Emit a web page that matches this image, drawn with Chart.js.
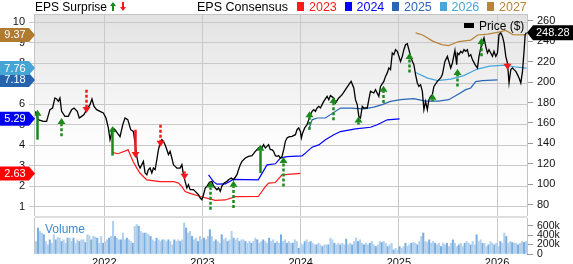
<!DOCTYPE html>
<html>
<head>
<meta charset="utf-8">
<script src="https://cdn.jsdelivr.net/npm/chart.js@4.4.1/dist/chart.umd.min.js"></script>
<style>
  html, body { margin: 0; padding: 0; background: #fff; }
  body { width: 573px; height: 264px; position: relative; overflow: hidden; font-family: "Liberation Sans", Arial, sans-serif; }
  canvas { position: absolute; left: 0; }
  #main { top: 0; }
  #vol { top: 218px; }
  .sep { position: absolute; left: 35px; top: 216px; width: 492px; height: 2px; background: #dedede; }
  .lg { position: absolute; top: 0; font-size: 12.5px; line-height: 14px; white-space: nowrap; color: #000; }
  .sw { position: absolute; top: 2px; width: 7px; height: 9px; }
  #priceLegend { position: absolute; left: 464px; top: 19px; font-size: 12px; line-height: 14px; white-space: nowrap; }
  #priceLegend span { display: inline-block; width: 10px; height: 5px; background: #000; margin-right: 5px; vertical-align: 2px; }
  #volLabel { position: absolute; left: 45px; top: 222px; font-size: 12px; line-height: 14px; color: #3b8bd2; }
</style>
</head>
<body>
<canvas id="main" width="573" height="216"></canvas>
<div class="sep"></div>
<canvas id="vol" width="573" height="46"></canvas>
<div class="lg" style="left:35px;font-size:12px">EPS Surprise</div>
<svg class="lg" style="left:110px;top:2px" width="20" height="10">
  <path d="M3 0 L6 4 L4 4 L4 9 L2 9 L2 4 L0 4 Z" fill="#1b8a1b"/>
  <path d="M13 9 L16 5 L14 5 L14 0 L12 0 L12 5 L10 5 Z" fill="#f21a1a"/>
</svg>
<div class="lg" style="left:197px">EPS Consensus</div>
<div id="consLegend"></div>
<div id="priceLegend"><span></span>Price ($)</div>
<div id="volLabel">Volume</div>

<script>
// x axis is in decimal years
const X_MIN = 2021.294, X_MAX = 2026.305;
const yearTicks = [2022, 2023, 2024, 2025, 2026];
const epsTicks = [1, 2, 3, 4, 5, 6, 7, 8, 9, 10];
const priceTicks = [80, 100, 120, 140, 160, 180, 200, 220, 240, 260];
const volTicks = [0, 200, 400, 600];

// price ($)
const priceYears = [2021.294, 2021.327, 2021.378, 2021.412, 2021.446, 2021.473, 2021.497, 2021.514, 2021.531, 2021.548,
  2021.565, 2021.599, 2021.633, 2021.667, 2021.691, 2021.724, 2021.745, 2021.769, 2021.793, 2021.820,
  2021.854, 2021.874, 2021.895, 2021.922, 2021.956, 2021.990, 2022.017, 2022.041, 2022.058, 2022.086,
  2022.109, 2022.130, 2022.160, 2022.188, 2022.211, 2022.239, 2022.269, 2022.296, 2022.313, 2022.331,
  2022.347, 2022.364, 2022.382, 2022.398, 2022.415, 2022.433, 2022.449, 2022.466, 2022.484, 2022.500,
  2022.517, 2022.535, 2022.551, 2022.568, 2022.586, 2022.602, 2022.619, 2022.637, 2022.653, 2022.670,
  2022.688, 2022.704, 2022.721, 2022.739, 2022.772, 2022.790, 2022.806, 2022.823, 2022.841, 2022.857,
  2022.874, 2022.908, 2022.926, 2022.959, 2022.977, 2022.994, 2023.010, 2023.028, 2023.045, 2023.071,
  2023.096, 2023.112, 2023.130, 2023.147, 2023.163, 2023.181, 2023.198, 2023.221, 2023.249, 2023.265,
  2023.293, 2023.316, 2023.351, 2023.367, 2023.385, 2023.402, 2023.436, 2023.469, 2023.504, 2023.538,
  2023.571, 2023.589, 2023.606, 2023.622, 2023.640, 2023.657, 2023.673, 2023.691, 2023.708, 2023.724,
  2023.742, 2023.759, 2023.776, 2023.793, 2023.810, 2023.827, 2023.844, 2023.861, 2023.878, 2023.912,
  2023.946, 2023.963, 2023.980, 2023.997, 2024.007, 2024.020, 2024.041, 2024.065, 2024.082, 2024.099,
  2024.116, 2024.133, 2024.150, 2024.167, 2024.184, 2024.201, 2024.218, 2024.235, 2024.269, 2024.286,
  2024.303, 2024.337, 2024.354, 2024.388, 2024.422, 2024.456, 2024.490, 2024.514, 2024.541, 2024.558,
  2024.576, 2024.592, 2024.609, 2024.627, 2024.643, 2024.678, 2024.694, 2024.711, 2024.745, 2024.762,
  2024.796, 2024.813, 2024.847, 2024.864, 2024.882, 2024.898, 2024.915, 2024.933, 2024.949, 2024.966,
  2024.984, 2025.017, 2025.035, 2025.051, 2025.068, 2025.086, 2025.102, 2025.119, 2025.137, 2025.153,
  2025.170, 2025.188, 2025.204, 2025.221, 2025.239, 2025.255, 2025.272, 2025.290, 2025.306, 2025.323,
  2025.341, 2025.357, 2025.392, 2025.426, 2025.443, 2025.469, 2025.494, 2025.528, 2025.545, 2025.571,
  2025.589, 2025.596, 2025.612, 2025.630, 2025.647, 2025.663, 2025.681, 2025.698, 2025.714, 2025.732,
  2025.749, 2025.776, 2025.800, 2025.816, 2025.834, 2025.851, 2025.867, 2025.885, 2025.902, 2025.918,
  2025.936, 2025.953, 2025.969, 2025.987, 2026.004, 2026.020, 2026.038, 2026.055, 2026.071, 2026.089,
  2026.106, 2026.122, 2026.140, 2026.157, 2026.173, 2026.191, 2026.208, 2026.224, 2026.242, 2026.259,
  2026.276, 2026.286, 2026.300];
const priceValues = [171.3, 163.2, 161.5, 161.5, 173.0, 174.6, 184.4, 183.4, 181.1, 184.4,
  171.3, 166.4, 166.4, 173.0, 174.6, 171.3, 164.8, 166.4, 168.1, 173.0,
  177.9, 183.4, 176.2, 173.0, 171.3, 169.7, 164.8, 155.1, 143.6, 155.1,
  153.4, 150.5, 146.6, 158.3, 164.8, 163.2, 153.4, 151.7, 140.4, 127.3,
  119.2, 115.9, 119.2, 122.4, 111.1, 109.4, 114.3, 115.9, 111.1, 115.9,
  114.3, 124.1, 133.8, 140.4, 143.6, 142.0, 138.7, 133.8, 129.0, 132.2,
  125.7, 119.2, 117.5, 115.9, 115.9, 119.2, 109.4, 102.8, 96.4, 99.6,
  94.7, 94.7, 93.1, 89.8, 86.6, 84.9, 89.8, 96.4, 98.0, 101.9,
  102.8, 98.6, 96.4, 94.7, 96.4, 93.1, 98.6, 101.3, 102.8, 104.5,
  106.2, 104.5, 109.4, 114.3, 119.2, 122.4, 125.7, 127.3, 128.0, 132.2,
  135.5, 137.1, 135.5, 138.7, 135.5, 137.1, 138.7, 133.8, 133.8, 132.2,
  128.0, 127.3, 128.0, 125.7, 127.3, 133.8, 142.0, 145.3, 146.3, 146.9,
  148.5, 153.4, 155.1, 151.7, 145.3, 150.2, 155.1, 158.3, 163.2, 168.1,
  171.3, 173.0, 171.3, 174.6, 176.2, 174.6, 177.9, 181.1, 186.0, 182.7,
  186.7, 184.4, 179.5, 184.4, 187.6, 192.5, 197.4, 200.6, 194.2, 182.7,
  177.9, 166.4, 164.8, 176.2, 174.6, 174.6, 182.7, 190.9, 189.3, 192.5,
  186.0, 195.7, 200.6, 205.5, 208.9, 213.7, 212.1, 228.4, 226.8, 231.6,
  230.0, 220.2, 225.1, 231.6, 236.5, 237.5, 231.6, 225.1, 220.2, 217.0,
  207.2, 199.1, 195.7, 197.4, 190.9, 173.0, 181.1, 173.0, 182.7, 186.0,
  187.6, 195.7, 200.6, 204.0, 207.2, 220.2, 225.1, 213.7, 218.6, 231.0,
  217.0, 228.4, 226.8, 230.0, 228.4, 231.6, 230.0, 231.6, 225.1, 226.8,
  221.9, 217.0, 213.7, 225.1, 233.3, 238.2, 243.1, 234.9, 228.4, 231.6,
  228.4, 225.1, 230.0, 225.1, 228.4, 246.3, 248.0, 244.6, 238.2, 225.1,
  218.6, 199.1, 212.1, 213.7, 212.1, 210.4, 207.2, 204.0, 199.1, 210.4,
  231.6, 246.3, 248.28];

// EPS consensus by fiscal year
const fy2023Years = [2022.079, 2022.140, 2022.242, 2022.293, 2022.331, 2022.364, 2022.433, 2022.568, 2022.704, 2022.755,
  2022.790, 2022.823, 2022.874, 2022.977, 2023.130, 2023.232, 2023.334, 2023.568, 2023.640, 2023.673,
  2023.742, 2023.810, 2023.997];
const fy2023Eps = [3.66, 3.59, 3.78, 3.21, 2.89, 2.64, 2.32, 2.23, 2.24, 2.16,
  1.99, 1.75, 1.66, 1.51, 1.32, 1.34, 1.50, 1.51, 1.99, 2.16,
  2.19, 2.56, 2.63];
const fy2024Years = [2023.061, 2023.112, 2023.147, 2023.232, 2023.313, 2023.568, 2023.657, 2023.742, 2023.793, 2023.861,
  2024.014, 2024.048, 2024.116, 2024.184, 2024.252, 2024.337, 2024.405, 2024.558, 2024.711, 2024.780,
  2024.882, 2025.007];
const fy2024Eps = [2.56, 2.23, 2.11, 2.12, 2.34, 2.32, 3.05, 3.10, 3.38, 3.45,
  3.49, 3.62, 3.91, 4.02, 4.27, 4.51, 4.67, 4.80, 4.88, 5.00,
  5.24, 5.29];
const fy2025Years = [2024.082, 2024.116, 2024.167, 2024.252, 2024.405, 2024.507, 2024.643, 2024.745, 2024.831, 2024.915,
  2025.017, 2025.150, 2025.272, 2025.405, 2025.507, 2025.596, 2025.681, 2025.732, 2025.783, 2025.851,
  2026.004];
const fy2025Eps = [4.76, 5.24, 5.33, 5.33, 5.81, 5.81, 5.77, 5.86, 5.98, 6.14,
  6.22, 6.27, 6.15, 6.15, 6.22, 6.46, 6.71, 6.79, 7.10, 7.15,
  7.18];
const fy2026Years = [2025.170, 2025.293, 2025.395, 2025.528, 2025.660, 2025.800, 2025.926, 2026.079, 2026.201, 2026.300];
const fy2026Eps = [7.54, 7.27, 7.15, 7.22, 7.39, 7.71, 7.85, 7.90, 7.80, 7.76];
const fy2027Years = [2025.170, 2025.242, 2025.344, 2025.436, 2025.507, 2025.609, 2025.732, 2025.803, 2025.905, 2026.017,
  2026.089, 2026.160, 2026.300];
const fy2027Eps = [9.47, 9.37, 9.07, 8.90, 8.85, 9.05, 9.12, 9.37, 9.41, 9.51,
  9.59, 9.39, 9.37];

const fiscalYears = ["2023", "2024", "2025", "2026", "2027"];
const fiscalColors = ["#ff1a1a", "#0000ff", "#2a66b8", "#45a7dc", "#b8843a"];
const fiscalTagColors = ["#ff0000", "#0000f0", "#2663ad", "#45a5d5", "#b07a2f"];

// EPS surprises: price where the arrow starts and where its head sits
const surpriseYears = [2021.315, 2021.561, 2021.810, 2022.082, 2022.313, 2022.563, 2022.813, 2023.079, 2023.310, 2023.582,
  2023.816, 2024.082, 2024.327, 2024.582, 2024.837, 2025.102, 2025.334, 2025.589, 2025.834, 2026.106];
const surpriseFrom = [143.6, 146.9, 192.5, 128.0, 153.4, 158.3, 112.6, 75.2, 76.8, 111.0,
  97.9, 153.4, 162.5, 158.3, 179.5, 209.4, 181.1, 195.7, 225.1, 218.6];
const surpriseTo = [173.0, 164.8, 169.7, 156.8, 125.7, 136.8, 104.5, 102.8, 103.5, 138.7,
  126.7, 171.3, 185.4, 166.4, 196.4, 228.4, 188.6, 212.8, 243.1, 212.1];
const surpriseStrong = [true, false, false, true, true, false, true, false, false, true,
  false, false, false, false, false, false, false, false, false, true];

// weekly volume, thousands of shares
const volumeK = [265, 552, 480, 444, 409, 265, 194, 301, 229, 409, 301, 358, 337, 265, 301, 229, 337, 337, 265, 337,
  229, 301, 265, 301, 301, 244, 409, 387, 301, 373, 358, 337, 229, 373, 229, 265, 301, 337, 373, 695,
  373, 337, 301, 301, 444, 301, 337, 301, 265, 229, 588, 624, 588, 480, 444, 444, 444, 409, 373, 301,
  265, 337, 301, 265, 301, 301, 265, 301, 265, 194, 301, 265, 301, 265, 301, 660, 552, 444, 480, 373,
  301, 337, 265, 373, 301, 337, 301, 373, 516, 373, 265, 301, 265, 229, 409, 301, 337, 265, 301, 480,
  337, 301, 337, 265, 301, 301, 265, 229, 265, 229, 265, 337, 301, 229, 265, 301, 265, 229, 337, 265,
  301, 229, 265, 229, 409, 265, 301, 229, 265, 229, 229, 301, 265,
  122, 229, 194, 265, 301, 244, 265, 229, 194, 194, 229, 194, 158, 194, 194, 194, 337, 301, 229, 194,
  229, 194, 229, 194, 315, 194, 229, 194, 265, 337, 265, 301, 229, 194, 229, 194, 229, 265, 194, 158,
  194, 265, 244, 265, 229, 158, 194, 229, 86, 122, 86, 158, 122, 158, 229, 158, 194, 229, 244, 229,
  194, 265, 373, 444, 265, 244, 301, 229, 265, 229, 194, 229, 158, 229, 194, 229, 158, 229, 301, 229,
  158, 194, 229, 158, 229, 265, 229, 194, 265, 194, 409, 265, 301, 229, 229, 158, 194, 265, 229, 194,
  229, 158, 265, 229, 444, 373, 229, 265, 244, 229, 229, 194, 229, 265, 244, 265];

Chart.defaults.font.family = '"Liberation Sans", Arial, sans-serif';
Chart.defaults.color = "#111";

// consensus legend along the top
const consLegend = document.getElementById("consLegend");
fiscalYears.forEach(function (fy, i) {
    const left = 297 + i * 47.5;
    consLegend.insertAdjacentHTML("beforeend",
        '<div class="sw" style="left:' + left + 'px;background:' + fiscalColors[i] + '"></div>' +
        '<div class="lg" style="left:' + (left + 12) + 'px;color:' + fiscalColors[i] + '">' + fy + '</div>');
});

function toPoints(xs, ys) {
    return xs.map((x, i) => ({ x: x, y: ys[i] }));
}

function drawArrow(ctx, x, y1, y2, color, solid) {
    const dir = y2 < y1 ? -1 : 1;
    const headH = 6, headW = 4;
    const neck = y2 - dir * headH;
    ctx.strokeStyle = color;
    ctx.lineWidth = 2.5;
    ctx.setLineDash(solid ? [] : [3, 2]);
    ctx.beginPath();
    ctx.moveTo(x, y1);
    ctx.lineTo(x, neck);
    ctx.stroke();
    ctx.setLineDash([]);
    ctx.fillStyle = color;
    ctx.beginPath();
    ctx.moveTo(x, y2);
    ctx.lineTo(x - headW, neck);
    ctx.lineTo(x + headW, neck);
    ctx.closePath();
    ctx.fill();
}

function leftTag(ctx, y, text, color) {
    ctx.fillStyle = color;
    ctx.beginPath();
    ctx.moveTo(0, y - 7);
    ctx.lineTo(29, y - 7);
    ctx.lineTo(35, y);
    ctx.lineTo(29, y + 7);
    ctx.lineTo(0, y + 7);
    ctx.closePath();
    ctx.fill();
    ctx.fillStyle = "#fff";
    ctx.font = '11px "Liberation Sans", Arial, sans-serif';
    ctx.textAlign = "center";
    ctx.textBaseline = "middle";
    ctx.fillText(text, 15, y + 0.5);
}

// background, surprise arrows and value tags
const overlay = {
    id: "overlay",
    beforeDraw(chart) {
        const { ctx, chartArea: a } = chart;
        const g = ctx.createLinearGradient(0, a.top, 0, a.bottom);
        g.addColorStop(0, "#e2e2e2");
        g.addColorStop(0.6, "#fcfcfc");
        g.addColorStop(1, "#ffffff");
        ctx.save();
        ctx.fillStyle = g;
        ctx.fillRect(a.left, a.top, a.right - a.left, a.bottom - a.top);
        ctx.restore();
    },
    afterDatasetsDraw(chart) {
        const ctx = chart.ctx;
        const xs = chart.scales.x, ys = chart.scales.yP;
        ctx.save();
        surpriseYears.forEach(function (yr, i) {
            const beat = surpriseTo[i] > surpriseFrom[i];
            drawArrow(ctx, Math.round(xs.getPixelForValue(yr)) + 0.5,
                ys.getPixelForValue(surpriseFrom[i]), ys.getPixelForValue(surpriseTo[i]),
                beat ? "#1b8a1b" : "#f21a1a", surpriseStrong[i]);
        });
        ctx.restore();
    },
    afterDraw(chart) {
        const { ctx, chartArea: a } = chart;
        const ye = chart.scales.yE, yp = chart.scales.yP;
        ctx.save();
        ctx.strokeStyle = "#c4c4c4";
        ctx.lineWidth = 1;
        ctx.strokeRect(a.left - 0.5, a.top + 0.5, a.right - a.left + 1, a.bottom - a.top);
        const finals = [fy2023Eps, fy2024Eps, fy2025Eps, fy2026Eps, fy2027Eps];
        finals.forEach(function (arr, i) {
            const v = arr[arr.length - 1];
            leftTag(ctx, ye.getPixelForValue(v), v.toFixed(2), fiscalTagColors[i]);
        });
        // last price tag on the right
        const last = priceValues[priceValues.length - 1];
        const py = yp.getPixelForValue(last);
        ctx.fillStyle = "#000";
        ctx.beginPath();
        ctx.moveTo(a.right, py);
        ctx.lineTo(a.right + 6, py - 7.5);
        ctx.lineTo(573, py - 7.5);
        ctx.lineTo(573, py + 7.5);
        ctx.lineTo(a.right + 6, py + 7.5);
        ctx.closePath();
        ctx.fill();
        ctx.fillStyle = "#fff";
        ctx.font = '11px "Liberation Sans", Arial, sans-serif';
        ctx.textAlign = "left";
        ctx.textBaseline = "middle";
        ctx.fillText(last.toFixed(2), a.right + 9, py + 0.5);
        ctx.restore();
    }
};

function fixedTicks(values) {
    return function (scale) {
        scale.ticks = values.map(v => ({ value: v }));
    };
}

const mainCtx = document.getElementById("main").getContext("2d");
const lineStyle = { pointRadius: 0, borderWidth: 1.2, tension: 0, fill: false };

new Chart(mainCtx, {
    type: "line",
    data: {
        datasets: [
            Object.assign({ data: toPoints(priceYears, priceValues), borderColor: "#000", yAxisID: "yP", order: 0 }, lineStyle, { borderWidth: 1.3 }),
            Object.assign({ data: toPoints(fy2023Years, fy2023Eps), borderColor: fiscalColors[0], yAxisID: "yE", order: 1 }, lineStyle),
            Object.assign({ data: toPoints(fy2024Years, fy2024Eps), borderColor: fiscalColors[1], yAxisID: "yE", order: 1 }, lineStyle),
            Object.assign({ data: toPoints(fy2025Years, fy2025Eps), borderColor: fiscalColors[2], yAxisID: "yE", order: 1 }, lineStyle),
            Object.assign({ data: toPoints(fy2026Years, fy2026Eps), borderColor: fiscalColors[3], yAxisID: "yE", order: 1 }, lineStyle),
            Object.assign({ data: toPoints(fy2027Years, fy2027Eps), borderColor: fiscalColors[4], yAxisID: "yE", order: 1 }, lineStyle)
        ]
    },
    options: {
        responsive: false,
        animation: false,
        layout: { padding: { top: 14, left: 0, right: 0, bottom: 0 } },
        plugins: { legend: { display: false }, tooltip: { enabled: false } },
        scales: {
            x: {
                type: "linear", min: X_MIN, max: X_MAX,
                afterBuildTicks: fixedTicks(yearTicks),
                ticks: { display: false },
                grid: { color: "#c9c9c9", drawTicks: false },
                border: { display: false },
                afterFit(s) { s.height = 0; s.paddingLeft = 0; s.paddingRight = 0; }
            },
            yE: {
                position: "left", min: 0.56, max: 10.39,
                afterBuildTicks: fixedTicks(epsTicks),
                ticks: { autoSkip: false, padding: 4, font: { size: 11 } },
                grid: { color: "#c9c9c9", tickLength: 6 },
                border: { display: false },
                afterFit(s) { s.width = 35; s.paddingTop = 0; s.paddingBottom = 0; }
            },
            yP: {
                position: "right", min: 69, max: 266.5,
                afterBuildTicks: fixedTicks(priceTicks),
                ticks: { autoSkip: false, padding: 4, font: { size: 11 } },
                grid: { drawOnChartArea: false, color: "#9a9a9a", tickLength: 6 },
                border: { display: false },
                afterFit(s) { s.width = 46; s.paddingTop = 0; s.paddingBottom = 0; }
            }
        }
    },
    plugins: [overlay]
});

// volume panel
const volFrame = {
    id: "volFrame",
    afterDraw(chart) {
        const { ctx, chartArea: a } = chart;
        ctx.save();
        ctx.strokeStyle = "#c4c4c4";
        ctx.beginPath();
        ctx.moveTo(a.left - 0.5, a.top);
        ctx.lineTo(a.left - 0.5, a.bottom);
        ctx.moveTo(a.right + 0.5, a.top);
        ctx.lineTo(a.right + 0.5, a.bottom);
        ctx.stroke();
        ctx.restore();
    }
};

const weekStep = (X_MAX - X_MIN) / volumeK.length;
const volCtx = document.getElementById("vol").getContext("2d");
new Chart(volCtx, {
    type: "bar",
    data: {
        datasets: [{
            data: volumeK.map((v, i) => ({ x: X_MIN + (i + 0.5) * weekStep, y: v })),
            backgroundColor: volumeK.map((v, i) => (i % 3 === 1 ? "#7aaedf" : "#b2d0ee")),
            barThickness: 1.4,
            yAxisID: "yV"
        }]
    },
    options: {
        responsive: false,
        animation: false,
        layout: { padding: { left: 35, top: 0, right: 0, bottom: 0 } },
        plugins: { legend: { display: false }, tooltip: { enabled: false } },
        scales: {
            x: {
                type: "linear", min: X_MIN, max: X_MAX, offset: false,
                afterBuildTicks: fixedTicks(yearTicks),
                ticks: { autoSkip: false, maxRotation: 0, padding: 2, font: { size: 11 }, callback: v => String(v) },
                grid: { color: "#c9c9c9", drawTicks: false, offset: false },
                border: { display: false },
                afterFit(s) { s.height = 10; s.paddingLeft = 0; s.paddingRight = 0; }
            },
            yV: {
                position: "right", min: 0, max: 763,
                afterBuildTicks: fixedTicks(volTicks),
                ticks: { autoSkip: false, padding: 4, font: { size: 10.5 }, callback: v => (v === 0 ? "0" : v + "k") },
                grid: { drawOnChartArea: false, color: "#9a9a9a", tickLength: 6 },
                border: { display: false },
                afterFit(s) { s.width = 46; s.paddingTop = 0; s.paddingBottom = 0; }
            }
        }
    },
    plugins: [volFrame]
});
</script>
</body>
</html>
